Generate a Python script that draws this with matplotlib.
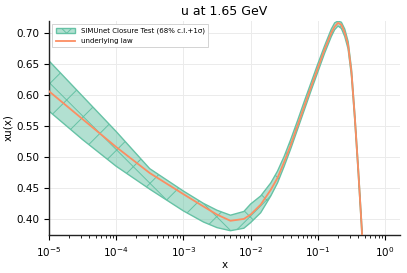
import numpy as np
import matplotlib
matplotlib.use("Agg")
import matplotlib.pyplot as plt

plt.rcParams["hatch.linewidth"] = 0.7

# log10(x) sample points
logx = [-5.0, -4.5, -4.0, -3.5, -3.0, -2.7, -2.5, -2.3, -2.1, -2.0, -1.85, -1.7,
        -1.6, -1.5, -1.4, -1.3, -1.2, -1.1, -1.0, -0.9, -0.8, -0.75, -0.7, -0.65,
        -0.6, -0.55, -0.5, -0.45, -0.4, -0.35, -0.3, -0.2, 0.0]
# underlying law xu(x)
law = [0.606, 0.561, 0.516, 0.474, 0.440, 0.420, 0.407, 0.397, 0.400, 0.407, 0.423, 0.447,
       0.466, 0.492, 0.520, 0.551, 0.582, 0.613, 0.643, 0.673, 0.700, 0.710, 0.716, 0.713,
       0.700, 0.680, 0.636, 0.563, 0.480, 0.390, 0.290, 0.080, 0.000]
# closure-test band
band_lo = [0.574, 0.528, 0.485, 0.448, 0.413, 0.395, 0.386, 0.381, 0.385, 0.394, 0.410, 0.437,
           0.458, 0.485, 0.514, 0.545, 0.576, 0.607, 0.637, 0.667, 0.694, 0.705, 0.711, 0.707,
           0.694, 0.674, 0.630, 0.557, 0.474, 0.384, 0.284, 0.074, 0.000]
band_hi = [0.655, 0.598, 0.541, 0.481, 0.445, 0.425, 0.414, 0.406, 0.412, 0.424, 0.437, 0.458,
           0.477, 0.501, 0.529, 0.559, 0.590, 0.620, 0.650, 0.679, 0.706, 0.716, 0.719, 0.717,
           0.706, 0.686, 0.642, 0.569, 0.486, 0.396, 0.296, 0.086, 0.000]

title = "u at 1.65 GeV"
band_label = "SIMUnet Closure Test (68% c.l.+1σ)"
law_label = "underlying law"

green = "#66c2a5"
orange = "#fc8d62"

x = 10.0 ** np.array(logx)

fig = plt.figure(figsize=(4.07, 2.73), dpi=100)
ax = fig.add_axes([0.120, 0.139, 0.863, 0.784])

ax.fill_between(x, band_lo, band_hi, facecolor=(0.4, 0.76, 0.647, 0.5), edgecolor=green,
                hatch="X", linewidth=1.0, label=band_label, zorder=2)
ax.plot(x, law, color=orange, lw=1.3, label=law_label, zorder=3)

ax.set_xscale("log")
ax.set_xlim(1e-5, 1.67)
ax.set_ylim(0.374, 0.719)
ax.set_yticks([0.40, 0.45, 0.50, 0.55, 0.60, 0.65, 0.70])
ax.grid(True, which="major", color="#ebebeb", lw=0.7, zorder=0)
ax.set_axisbelow(True)

for s in ["top", "right"]:
    ax.spines[s].set_visible(False)
for s in ["left", "bottom"]:
    ax.spines[s].set_linewidth(1.0)
    ax.spines[s].set_color("#222222")

ax.tick_params(axis="both", which="major", labelsize=7.5, length=3.5, width=0.8, direction="out")
ax.tick_params(axis="x", which="minor", length=2, width=0.6)

ax.set_title(title, fontsize=9, pad=4)
ax.set_xlabel("x", fontsize=7.5, labelpad=1)
ax.set_ylabel("xu(x)", fontsize=7.5, labelpad=2)

leg = ax.legend(loc="upper left", fontsize=5, frameon=True, fancybox=False,
                edgecolor="#cccccc", framealpha=1.0, borderpad=0.5, handlelength=2.8)
leg.get_frame().set_linewidth(0.6)

fig.savefig("out.png", dpi=100)
